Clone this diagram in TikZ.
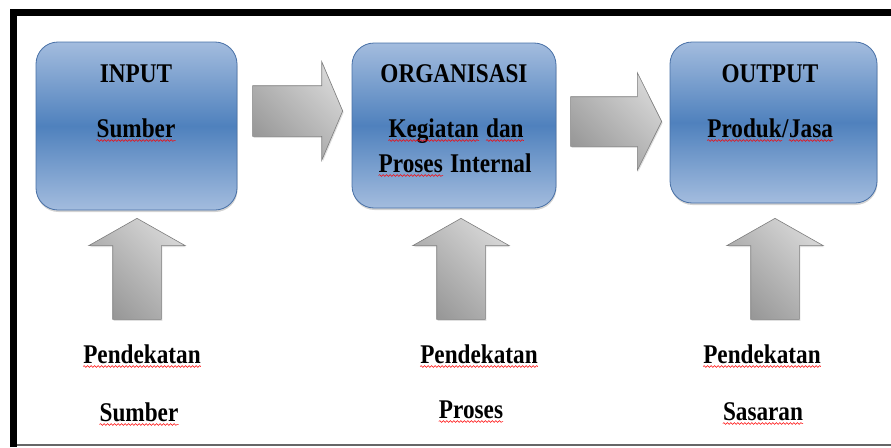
\documentclass[tikz,border=0pt]{standalone}
\usepackage{fontspec}
\setmainfont{Liberation Serif}[FakeStretch=0.86]
\usetikzlibrary{shapes.arrows,shadows,decorations.pathmorphing}
\definecolor{boxlight}{RGB}{163,188,222}
\definecolor{boxdark}{RGB}{79,129,189}
\definecolor{boxedge}{RGB}{72,112,166}
\definecolor{arrlight}{RGB}{214,214,214}
\definecolor{arrdark}{RGB}{152,152,152}
\definecolor{arredge}{RGB}{125,125,125}
\tikzset{
  kotak/.style={draw=boxedge,line width=0.8pt,rounded corners=22pt,inner sep=0pt,
    top color=boxlight,bottom color=boxlight,middle color=boxdark,
    drop shadow={opacity=0.35,shadow xshift=0.5pt,shadow yshift=-2pt}},
  panah/.style={single arrow,draw=arredge,line width=0.6pt,
    single arrow head extend=24pt,
    top color=arrlight,bottom color=arrdark,shading angle=-45,
    drop shadow={opacity=0.25,shadow xshift=1pt,shadow yshift=-1.5pt}},
  lbl/.style={font=\fontsize{27}{32}\selectfont\bfseries,inner sep=0pt,anchor=base},
  salah/.style={red,line width=0.5pt,decorate,decoration={snake,amplitude=0.9pt,segment length=3.5pt}}
}
\begin{document}
\begin{tikzpicture}[x=1pt,y=-1pt]
	\useasboundingbox (0,0) rectangle (891,447);
	% bingkai
	\draw[line width=7pt] (13.5,447)--(13.5,12)--(891,12);
	\draw[black!60,line width=1.5pt] (17,445)--(891,445);
	% kotak utama
	\node[kotak,minimum width=201pt,minimum height=168pt] (input) at (136.5,126) {};
	\node[kotak,minimum width=204pt,minimum height=165pt] (organisasi) at (454,125.5) {};
	\node[kotak,minimum width=207pt,minimum height=161pt] (output) at (773.5,122.5) {};
	\node[lbl] (tin) at (136,82) {INPUT};
	\node[lbl] (sin) at (136,137) {Sumber};
	\node[lbl] (torg) at (454,82) {ORGANISASI};
	\node[lbl,anchor=base east] (keg) at (479,137) {Kegiatan};
	\node[lbl,anchor=base west] (dan) at (486,137) {dan};
	\node[lbl,anchor=base east] (pro) at (443,172) {Proses};
	\node[lbl,anchor=base west] (int) at (450,172) {Internal};
	\node[lbl] (tout) at (770,82) {OUTPUT};
	\node[lbl,anchor=base east] (prd) at (782,137) {Produk};
	\node[lbl,anchor=base west] (gar) at (prd.base east) {/};
	\node[lbl,anchor=base west] (jas) at (gar.base east) {Jasa};
	% panah
	\node[panah,inner sep=25pt,anchor=tip,minimum height=90pt,single arrow tip angle=134] (p1) at (343,111) {};
	\node[panah,inner sep=24.5pt,anchor=tip,minimum height=91pt,single arrow tip angle=127] (p2) at (662,121.5) {};
	\foreach \x/\n in {137/u1,461/u2,775/u3}
		\node[panah,inner sep=24pt,anchor=tip,shape border rotate=90,minimum height=101pt,single arrow tip angle=121] (\n) at (\x,218) {};
	% pendekatan
	\node[lbl] (pd1) at (142,363) {Pendekatan};
	\node[lbl] (ps1) at (139,421) {Sumber};
	\node[lbl] (pd2) at (479,363) {Pendekatan};
	\node[lbl] (ps2) at (471,418) {Proses};
	\node[lbl] (pd3) at (762,363) {Pendekatan};
	\node[lbl] (ps3) at (763,420) {Sasaran};
	% garis ejaan
	\foreach \n in {sin,keg,dan,pro,prd,jas,pd1,ps1,pd2,ps2,pd3,ps3}
		\draw[salah] ([yshift=-3.5pt]\n.base west)--([yshift=-3.5pt]\n.base east);
\end{tikzpicture}
\end{document}
